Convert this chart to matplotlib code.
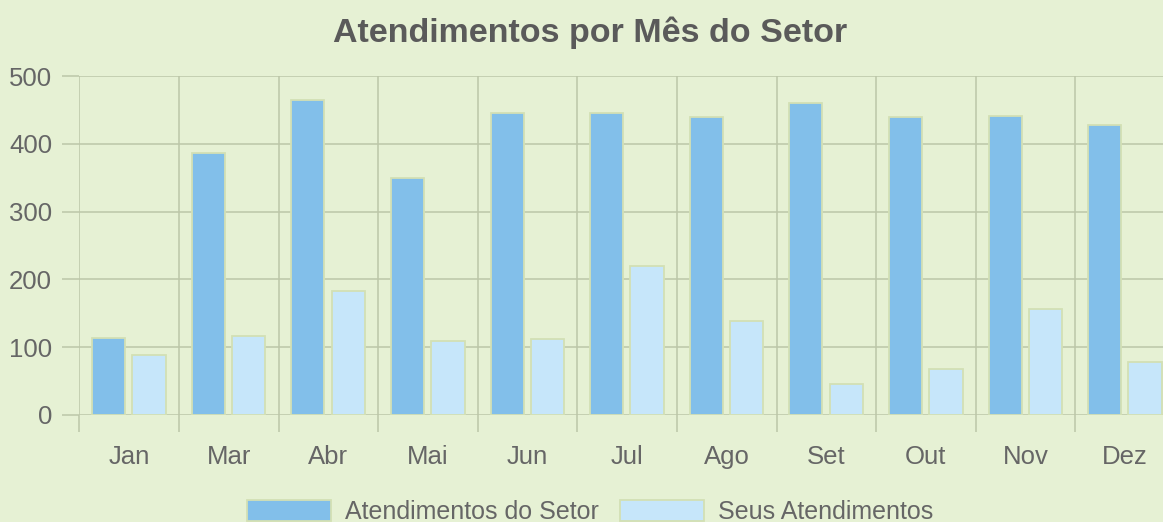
import matplotlib
matplotlib.use("Agg")
import matplotlib.pyplot as plt
import numpy as np
from matplotlib.ticker import FixedLocator

plt.rcParams['font.family'] = ['Liberation Sans', 'DejaVu Sans']

title = "Atendimentos por Mês do Setor"
categories = ["Jan", "Mar", "Abr", "Mai", "Jun", "Jul", "Ago", "Set", "Out", "Nov", "Dez"]
series_names = ["Atendimentos do Setor", "Seus Atendimentos"]
setor = [113, 387, 464, 349, 446, 446, 440, 460, 439, 441, 427]
seus = [88, 117, 183, 109, 112, 220, 138, 46, 68, 156, 78]
yticks = [0, 100, 200, 300, 400, 500]

W, H = 1163, 522
bg = "#e6f1d4"
grid_c = "#bcc6a8"
text_c = "#666666"
dark = "#82bfea"
light = "#c6e6fa"
edge = "#d3e0b4"

fig = plt.figure(figsize=(W / 100, H / 100), dpi=100, facecolor=bg)
left_px, right_px, top_px, bot_px = 79.3, 79.3 + 11 * 99.6, 76, 415
ax = fig.add_axes([left_px / W, 1 - bot_px / H, (right_px - left_px) / W, (bot_px - top_px) / H])
ax.set_facecolor(bg)

x = np.arange(len(categories))
ax.bar(x - 0.205, setor, width=0.33, color=dark, edgecolor=edge, linewidth=1.3, zorder=3,
       label=series_names[0])
ax.bar(x + 0.20, seus, width=0.335, color=light, edgecolor=edge, linewidth=1.3, zorder=3,
       label=series_names[1])

ax.set_xlim(-0.5, len(categories) - 0.5)
ax.set_ylim(0, 500)
ax.set_yticks(yticks)
ax.set_xticks(x)
ax.set_xticklabels(categories)
ax.xaxis.set_minor_locator(FixedLocator(np.arange(len(categories) + 1) - 0.5))

for s in ax.spines.values():
    s.set_visible(False)

ax.grid(True, axis='y', which='major', color=grid_c, linewidth=1.1, zorder=1)
ax.grid(True, axis='x', which='minor', color=grid_c, linewidth=1.1, zorder=1)
ax.grid(False, axis='x', which='major')

ax.tick_params(axis='x', which='major', length=0, pad=21.5, labelsize=18.5, labelcolor=text_c)
ax.tick_params(axis='x', which='minor', length=12.5, width=1.1, color=grid_c, direction='out')
ax.tick_params(axis='y', which='major', length=12.5, width=1.1, color=grid_c, pad=7,
               labelsize=18.5, labelcolor=text_c)

fig.text(590 / W, 1 - 42 / H, title, ha='center', va='baseline', fontsize=24.5,
         fontweight='bold', color="#5a5a5a")

handles, labels = ax.get_legend_handles_labels()
leg = fig.legend(handles, labels, loc='center', bbox_to_anchor=(590 / W, 1 - 512 / H),
                 ncol=2, frameon=False, fontsize=18, handlelength=3.36, handleheight=0.9,
                 handletextpad=0.56, columnspacing=0.85, labelcolor=text_c,
                 borderpad=0, borderaxespad=0)

fig.savefig("out.png", dpi=100, facecolor=bg)
